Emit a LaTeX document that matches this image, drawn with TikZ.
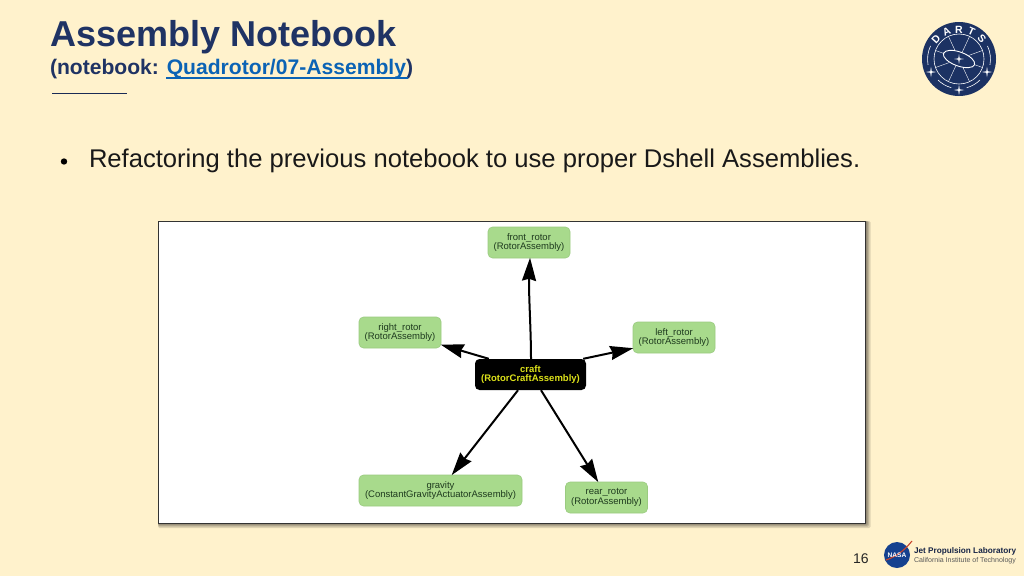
\documentclass[tikz,border=0pt]{standalone}
\usepackage{fontspec}
\setmainfont{Liberation Sans}
\usetikzlibrary{arrows.meta,shadows,calc}
\definecolor{slidebg}{HTML}{FFF2CC}
\definecolor{titleblue}{HTML}{1F3364}
\definecolor{linkblue}{HTML}{0B63B5}
\definecolor{nodegreen}{HTML}{A8DA8C}
\definecolor{nodeedge}{HTML}{9ACB80}
\definecolor{craftyellow}{HTML}{DDE21A}
\definecolor{logoblue}{HTML}{1C3263}
\definecolor{nasablue}{HTML}{15418F}
\definecolor{nasared}{HTML}{C8432B}
\definecolor{nodetext}{HTML}{1E3A1E}
\tikzset{
  x=1pt,y=-1pt,
  txt/.style={anchor=base west,inner sep=0pt,outer sep=0pt},
  asm/.style={draw=nodeedge,line width=0.6pt,fill=nodegreen,rounded corners=4.5pt,align=center,
     font=\fontsize{9.5}{9.6}\selectfont,text=nodetext,inner sep=0pt,minimum height=31pt},
  craftnode/.style={fill=black,rounded corners=4.5pt,align=center,
     font=\fontsize{9.5}{9.6}\selectfont\bfseries,text=craftyellow,inner sep=0pt,minimum width=111pt,minimum height=31pt},
  dep/.style={draw=black,line width=2pt,-{Stealth[length=23pt,width=14pt,inset=2pt]},shorten >=-0.5pt},
  logoline/.style={draw=white,line width=0.6pt},
  logotext/.style={text=white,font=\fontsize{10.5}{10.5}\selectfont\bfseries,inner sep=0pt},
  star/.pic={\fill[white] (0,-7) -- (1,-1) -- (7,0) -- (1,1) -- (0,7) -- (-1,1) -- (-7,0) -- (-1,-1) -- cycle;},
  softshade/.style={fill=black,fill opacity=0.13,rounded corners=1.5pt},
}
\begin{document}
\begin{tikzpicture}
\useasboundingbox (0,0) rectangle (1024,576);
\fill[slidebg] (0,0) rectangle (1024,576);
% title
\node[txt,text=titleblue,font=\fontsize{36}{36}\selectfont\bfseries] (title) at (50.5,46) {Assembly Notebook};
\node[txt,text=titleblue,font=\fontsize{21.1}{21}\selectfont\bfseries] (sub) at (50,74.5)
  {(notebook: \textcolor{linkblue}{Quadrotor/07-Assembly})};
\fill[linkblue] (166,77.4) rectangle (407.5,79);
\draw[titleblue!85!black,line width=1.1pt] (52,93.5) -- (127,93.5);
% bullet
\fill[black] (64,161.5) circle (3.2);
\node[txt,text=black!90,font=\fontsize{25.6}{26}\selectfont] (body) at (89,167)
  {Refactoring the previous notebook to use proper Dshell Assemblies.};
% frame
\fill[softshade] (158,221) rectangle (870.5,528);
\fill[softshade] (158,221) rectangle (869,526.5);
\fill[softshade] (158,221) rectangle (868,525.5);
\fill[softshade] (158,221) rectangle (867,524.5);
\draw[draw=black!80,fill=white,line width=0.8pt] (158.5,221.5) rectangle (865.5,523.5);
% graph
\node[asm,minimum width=82pt] (front) at (529,242.5) {front\_rotor\\(RotorAssembly)};
\node[asm,minimum width=82pt] (right) at (400,332.5) {right\_rotor\\(RotorAssembly)};
\node[asm,minimum width=82pt] (left) at (674,337.5) {left\_rotor\\(RotorAssembly)};
\node[craftnode] (craft) at (530.5,374.5) {craft\\(RotorCraftAssembly)};
\node[asm,minimum width=163pt] (gravity) at (440.5,490.5) {gravity\\(ConstantGravityActuatorAssembly)};
\node[asm,minimum width=82pt] (rear) at (606.5,497.5) {rear\_rotor\\(RotorAssembly)};
\draw[dep] ([xshift=0.5pt]craft.north) .. controls +(0,-30) and +(-1.5,35) .. ([xshift=1pt]front.south);
\draw[dep] ([xshift=14pt]craft.north west) -- ([yshift=3.5pt]right.south east);
\draw[dep] ([xshift=-3pt]craft.north east) -- ([yshift=5pt]left.south west);
\draw[dep] ([xshift=-12.5pt]craft.south) -- ([xshift=11.5pt]gravity.north);
\draw[dep] ([xshift=10.5pt]craft.south) -- ([xshift=-8.5pt]rear.north);
% DARTS logo
\begin{scope}[shift={(959,59)}]
  \fill[logoblue] (0,0) circle (37);
  \draw[logoline] (0,0) circle (25);
  \foreach \a in {20,65,115,160,200,245,295,340}
    \draw[logoline,line width=0.4pt] (\a:7) -- (\a:25);
  \fill[logoblue,rotate=-20] (0,0) ellipse (17 and 7.5);
  \draw[logoline,line width=0.9pt,rotate=-20] (0,0) ellipse (16.5 and 7);
  \pic[scale=0.7] {star};
  \node[logotext,rotate=48] (d) at (-23,-20) {D};
  \node[logotext,rotate=24] (a) at (-12.5,-27) {A};
  \node[logotext] (r) at (0,-29.5) {R};
  \node[logotext,rotate=-24] (t) at (12.5,-27) {T};
  \node[logotext,rotate=-48] (s) at (23,-20) {S};
  \draw[logoline] (-28.5,-13) arc[start angle=205,end angle=170,radius=31.5];
  \draw[logoline] (28.5,-13) arc[start angle=-25,end angle=10,radius=31.5];
  \draw[logoline] (-21,21) arc[start angle=135,end angle=105,radius=29.7];
  \draw[logoline] (21,21) arc[start angle=45,end angle=75,radius=29.7];
  \pic[scale=0.75] at (-28,13) {star};
  \pic[scale=0.75] at (28,13) {star};
  \pic[scale=0.75] at (0,31) {star};
\end{scope}
% page number and JPL
\node[txt,text=black!85,font=\fontsize{14}{14}\selectfont] (page) at (853,563) {16};
\fill[nasablue] (897,555) circle (13);
\draw[nasared,line width=1.1pt] (886,560) .. controls (895,557) and (903,552) .. (912,541);
\node[text=white,inner sep=0pt,font=\fontsize{6.6}{6.6}\selectfont\bfseries] (nasa) at (897,555.5) {NASA};
\node[txt,text=titleblue!70!black,font=\fontsize{8.2}{8}\selectfont\bfseries] (jpl) at (914,553.5) {Jet Propulsion Laboratory};
\node[txt,text=black!65,font=\fontsize{7.05}{7}\selectfont] (cit) at (914,562.5) {California Institute of Technology};
\end{tikzpicture}
\end{document}
